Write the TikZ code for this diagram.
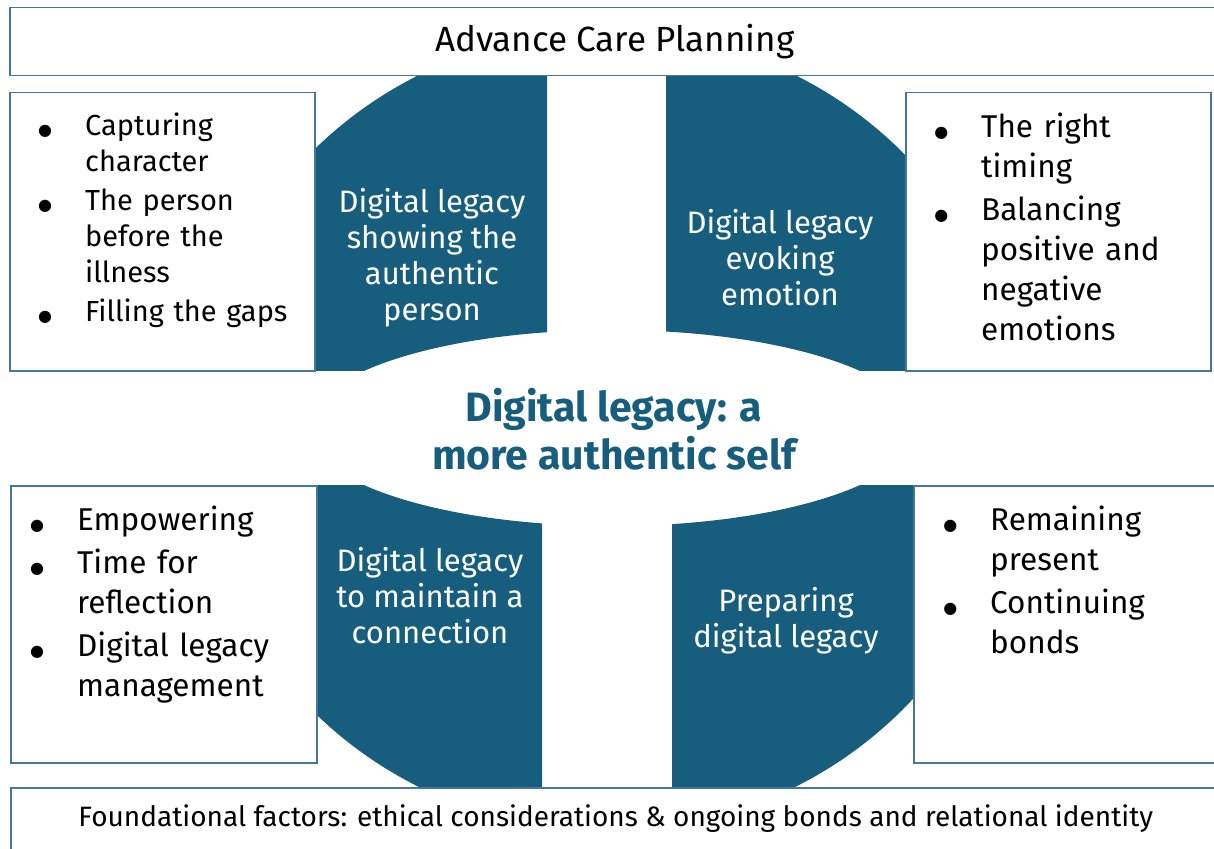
\documentclass[tikz,border=0pt]{standalone}
\usepackage{fontspec}
\setmainfont{Fira Sans}
\newfontfamily\dotfont{DejaVu Sans}
\usepackage{enumitem}
\usetikzlibrary{positioning}

\definecolor{legacyblue}{HTML}{175E7E}
\definecolor{frameblue}{HTML}{45799C}

\tikzset{
  frame/.style={draw=frameblue, line width=1.5pt, fill=white, anchor=north west, inner sep=0pt},
  segment/.style={fill=legacyblue, even odd rule},
  quadtext/.style={text=white, align=center, font=\fontsize{31}{36}\selectfont},
  dotlist/.style={anchor=north west, inner sep=0pt, text width=260pt, align=left},
}

\newcommand{\points}[1]{%
  \begin{itemize}[label={\dotfont\fontsize{16}{16}\selectfont ●}, leftmargin=40pt, labelsep=33pt,
    labelwidth=7pt, align=right, itemsep=3pt, topsep=0pt, parsep=0pt, partopsep=0pt]#1\end{itemize}}

\begin{document}
\begin{tikzpicture}[x=1pt, y=-1pt]
\clip (0,0) rectangle (1214,848);

\foreach \xa/\ya/\xb/\yb in {300/60/547/370, 666/60/920/370, 300/485/542/800, 672/485/920/800}{
  \begin{scope}
    \clip (\xa,\ya) rectangle (\xb,\yb);
    \fill[segment] (607,431) ellipse [x radius=412, y radius=400]
                   (612,428) ellipse [x radius=305, y radius=98];
  \end{scope}
}

\node[frame, minimum width=1210pt, minimum height=68pt, font=\fontsize{35}{40}\selectfont] (acp) at (9,7) {Advance Care Planning};
\node[frame, minimum width=1210pt, minimum height=62pt, font=\fontsize{28}{32}\selectfont] (found) at (10,787) {Foundational factors: ethical considerations \& ongoing bonds and relational identity};

\node[frame, minimum width=305pt, minimum height=278pt] (charbox) at (9,92) {};
\node[frame, minimum width=305pt, minimum height=278pt] (timebox) at (905,92) {};
\node[frame, minimum width=306pt, minimum height=277pt] (empbox) at (10,485) {};
\node[frame, minimum width=307pt, minimum height=277pt] (bondbox) at (913,485) {};

\node[dotlist, font=\fontsize{29}{36}\selectfont] (charlist) at ([xshift=36pt, yshift=-7pt]charbox.north west)
  {\points{\item Capturing\\character \item The person\\before the\\illness \item Filling the gaps}};
\node[dotlist, font=\fontsize{31.5}{40}\selectfont] (timelist) at ([xshift=36pt, yshift=-5pt]timebox.north west)
  {\points{\item The right\\timing \item Balancing\\positive and\\negative\\emotions}};
\node[dotlist, font=\fontsize{31.5}{40}\selectfont] (emplist) at ([xshift=27pt, yshift=-5pt]empbox.north west)
  {\points{\item Empowering \item Time for\\reflection \item Digital legacy\\management}};
\node[dotlist, font=\fontsize{31.5}{40}\selectfont] (bondlist) at ([xshift=37pt, yshift=-5pt]bondbox.north west)
  {\points{\item Remaining\\present \item Continuing\\bonds}};

\node[quadtext] (authentic) at (432,258) {Digital legacy\\showing the\\authentic\\person};
\node[quadtext] (emotion) at (780,258) {Digital legacy\\evoking\\emotion};
\node[quadtext] (connection) at (430,596) {Digital legacy\\to maintain a\\connection};
\node[quadtext] (preparing) at (786,621) {Preparing\\digital legacy};

\node[text=legacyblue, align=center, font=\bfseries\fontsize{41}{48}\selectfont] (self) at (614,429) {Digital legacy: a\\more authentic self};
\end{tikzpicture}
\end{document}
